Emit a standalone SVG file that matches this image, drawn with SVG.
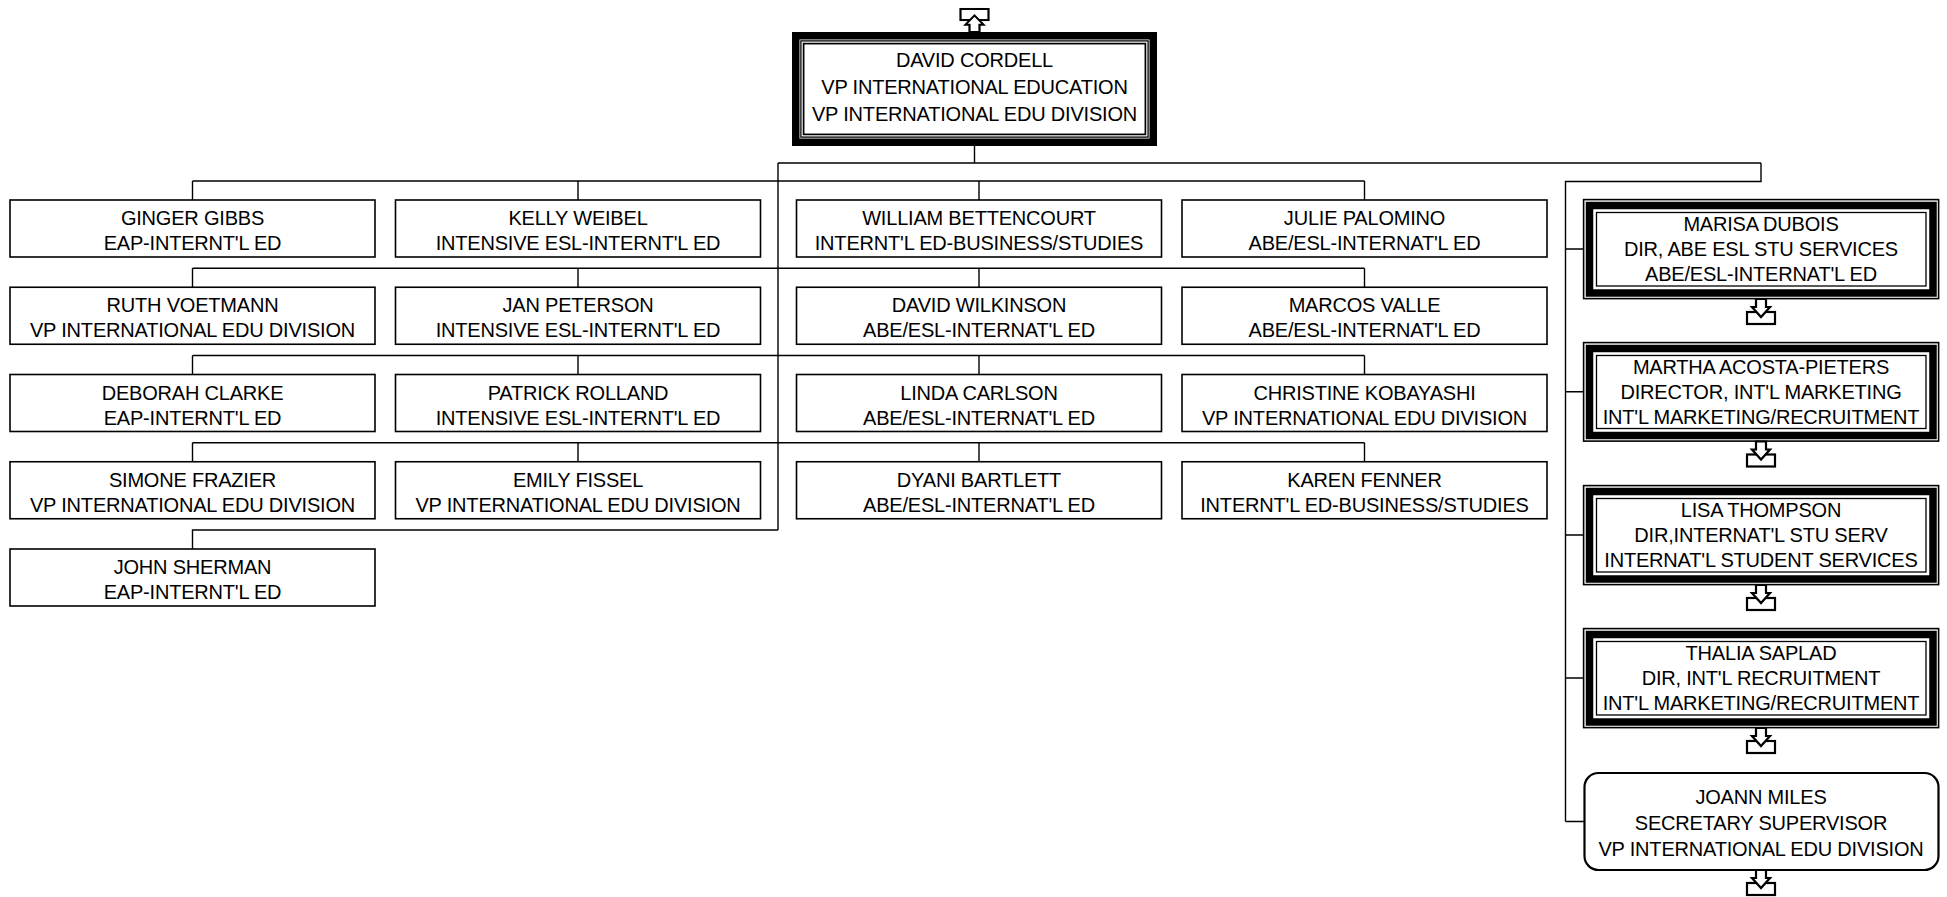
<svg xmlns="http://www.w3.org/2000/svg" xmlns:xlink="http://www.w3.org/1999/xlink" width="1947" height="897" viewBox="0 0 1947 897">
<style>
  text { font-family: "Liberation Sans", Arial, sans-serif; font-size: 20px; fill: #000; text-anchor: middle; letter-spacing: -0.2px; }
  .box { fill: #fff; stroke: #000; stroke-width: 1.6; }
  .conn { fill: none; stroke: #000; stroke-width: 1.4; }
  .thin { fill: none; stroke: #000; stroke-width: 1.3; }
  .band { fill: none; stroke: #000; stroke-width: 7.5; }
  .arr { fill: #fff; stroke: #000; stroke-width: 2.2; stroke-linejoin: miter; }
</style>
<defs>
  <g id="downArrow">
    <rect class="arr" x="-14" y="13" width="28" height="12"/>
    <polygon class="arr" points="-5,0 5,0 5,8 9,8 0,18 -9,8 -5,8"/>
  </g>
</defs>
<rect x="0" y="0" width="1947" height="897" fill="#fff"/>

<g id="connectors">
  <path class="conn" d="M974.5,146 V163 M778,163 H1761 M778,163 V530"/>
  <path class="conn" d="M192.5,181 H1364.5 M192.5,181 V200 M578,181 V200 M979,181 V200 M1364.5,181 V200"/>
  <path class="conn" d="M192.5,268.25 H1364.5 M192.5,268.25 V287.25 M578,268.25 V287.25 M979,268.25 V287.25 M1364.5,268.25 V287.25"/>
  <path class="conn" d="M192.5,355.5 H1364.5 M192.5,355.5 V374.5 M578,355.5 V374.5 M979,355.5 V374.5 M1364.5,355.5 V374.5"/>
  <path class="conn" d="M192.5,442.75 H1364.5 M192.5,442.75 V461.75 M578,442.75 V461.75 M979,442.75 V461.75 M1364.5,442.75 V461.75"/>
  <path class="conn" d="M778,530 H192.5 V549"/>
  <path class="conn" d="M1761,163 V181.5 H1565.5 V821.5"/>
  <path class="conn" d="M1565.5,249 H1583 M1565.5,391.75 H1583 M1565.5,535 H1583 M1565.5,678 H1583 M1565.5,821.5 H1584"/>
</g>

<g id="david-cordell">
  <rect x="792" y="32" width="365" height="114" fill="#fff"/>
  <rect x="795.75" y="35.75" width="357.5" height="106.5" fill="none" stroke="#000" stroke-width="7.5"/>
  <rect x="800.9" y="40.9" width="347.2" height="96.2" fill="none" stroke="#000" stroke-width="1.3"/>
  <rect x="803.6" y="43.6" width="341.8" height="90.8" fill="none" stroke="#000" stroke-width="1.7"/>
  <g transform="translate(974.5,32) scale(1,-0.92)"><use xlink:href="#downArrow"/></g>
  <text x="974.5" y="67">DAVID CORDELL</text>
  <text x="974.5" y="94">VP INTERNATIONAL EDUCATION</text>
  <text x="974.5" y="121">VP INTERNATIONAL EDU DIVISION</text>
</g>

<!-- Row 0 -->
<g id="ginger-gibbs"><rect class="box" x="10" y="200" width="365" height="57"/><text x="192.5" y="225">GINGER GIBBS</text><text x="192.5" y="250">EAP-INTERNT'L ED</text></g>
<g id="kelly-weibel"><rect class="box" x="395.5" y="200" width="365" height="57"/><text x="578" y="225">KELLY WEIBEL</text><text x="578" y="250">INTENSIVE ESL-INTERNT'L ED</text></g>
<g id="william-bettencourt"><rect class="box" x="796.5" y="200" width="365" height="57"/><text x="979" y="225">WILLIAM BETTENCOURT</text><text x="979" y="250">INTERNT'L ED-BUSINESS/STUDIES</text></g>
<g id="julie-palomino"><rect class="box" x="1182" y="200" width="365" height="57"/><text x="1364.5" y="225">JULIE PALOMINO</text><text x="1364.5" y="250">ABE/ESL-INTERNAT'L ED</text></g>

<!-- Row 1 -->
<g id="ruth-voetmann"><rect class="box" x="10" y="287.25" width="365" height="57"/><text x="192.5" y="312.25">RUTH VOETMANN</text><text x="192.5" y="337.25">VP INTERNATIONAL EDU DIVISION</text></g>
<g id="jan-peterson"><rect class="box" x="395.5" y="287.25" width="365" height="57"/><text x="578" y="312.25">JAN PETERSON</text><text x="578" y="337.25">INTENSIVE ESL-INTERNT'L ED</text></g>
<g id="david-wilkinson"><rect class="box" x="796.5" y="287.25" width="365" height="57"/><text x="979" y="312.25">DAVID WILKINSON</text><text x="979" y="337.25">ABE/ESL-INTERNAT'L ED</text></g>
<g id="marcos-valle"><rect class="box" x="1182" y="287.25" width="365" height="57"/><text x="1364.5" y="312.25">MARCOS VALLE</text><text x="1364.5" y="337.25">ABE/ESL-INTERNAT'L ED</text></g>

<!-- Row 2 -->
<g id="deborah-clarke"><rect class="box" x="10" y="374.5" width="365" height="57"/><text x="192.5" y="399.5">DEBORAH CLARKE</text><text x="192.5" y="424.5">EAP-INTERNT'L ED</text></g>
<g id="patrick-rolland"><rect class="box" x="395.5" y="374.5" width="365" height="57"/><text x="578" y="399.5">PATRICK ROLLAND</text><text x="578" y="424.5">INTENSIVE ESL-INTERNT'L ED</text></g>
<g id="linda-carlson"><rect class="box" x="796.5" y="374.5" width="365" height="57"/><text x="979" y="399.5">LINDA CARLSON</text><text x="979" y="424.5">ABE/ESL-INTERNAT'L ED</text></g>
<g id="christine-kobayashi"><rect class="box" x="1182" y="374.5" width="365" height="57"/><text x="1364.5" y="399.5">CHRISTINE KOBAYASHI</text><text x="1364.5" y="424.5">VP INTERNATIONAL EDU DIVISION</text></g>

<!-- Row 3 -->
<g id="simone-frazier"><rect class="box" x="10" y="461.75" width="365" height="57"/><text x="192.5" y="486.75">SIMONE FRAZIER</text><text x="192.5" y="511.75">VP INTERNATIONAL EDU DIVISION</text></g>
<g id="emily-fissel"><rect class="box" x="395.5" y="461.75" width="365" height="57"/><text x="578" y="486.75">EMILY FISSEL</text><text x="578" y="511.75">VP INTERNATIONAL EDU DIVISION</text></g>
<g id="dyani-bartlett"><rect class="box" x="796.5" y="461.75" width="365" height="57"/><text x="979" y="486.75">DYANI BARTLETT</text><text x="979" y="511.75">ABE/ESL-INTERNAT'L ED</text></g>
<g id="karen-fenner"><rect class="box" x="1182" y="461.75" width="365" height="57"/><text x="1364.5" y="486.75">KAREN FENNER</text><text x="1364.5" y="511.75">INTERNT'L ED-BUSINESS/STUDIES</text></g>

<!-- Row 4 -->
<g id="john-sherman"><rect class="box" x="10" y="549" width="365" height="57"/><text x="192.5" y="574">JOHN SHERMAN</text><text x="192.5" y="599">EAP-INTERNT'L ED</text></g>

<!-- Right column -->
<g id="marisa-dubois">
  <rect class="box" x="1583.6" y="199.6" width="355" height="99" stroke-width="1.3"/>
  <rect class="band" x="1589.5" y="205.5" width="343.5" height="87.5"/>
  <rect class="thin" x="1596.5" y="212.5" width="329.5" height="73.5" stroke-width="1.5"/>
  <use xlink:href="#downArrow" x="1761" y="299"/>
  <text x="1761" y="231">MARISA DUBOIS</text><text x="1761" y="256">DIR, ABE ESL STU SERVICES</text><text x="1761" y="281">ABE/ESL-INTERNAT'L ED</text>
</g>
<g id="martha-acosta-pieters">
  <rect class="box" x="1583.6" y="342.6" width="355" height="98.5" stroke-width="1.3"/>
  <rect class="band" x="1589.5" y="348.5" width="343.5" height="87"/>
  <rect class="thin" x="1596.5" y="355.5" width="329.5" height="73" stroke-width="1.5"/>
  <use xlink:href="#downArrow" x="1761" y="441.5"/>
  <text x="1761" y="373.75">MARTHA ACOSTA-PIETERS</text><text x="1761" y="398.75">DIRECTOR, INT'L MARKETING</text><text x="1761" y="423.75">INT'L MARKETING/RECRUITMENT</text>
</g>
<g id="lisa-thompson">
  <rect class="box" x="1583.6" y="485.6" width="355" height="99" stroke-width="1.3"/>
  <rect class="band" x="1589.5" y="491.5" width="343.5" height="87.5"/>
  <rect class="thin" x="1596.5" y="498.5" width="329.5" height="73.5" stroke-width="1.5"/>
  <use xlink:href="#downArrow" x="1761" y="585"/>
  <text x="1761" y="517">LISA THOMPSON</text><text x="1761" y="542">DIR,INTERNAT'L STU SERV</text><text x="1761" y="567">INTERNAT'L STUDENT SERVICES</text>
</g>
<g id="thalia-saplad">
  <rect class="box" x="1583.6" y="628.6" width="355" height="99" stroke-width="1.3"/>
  <rect class="band" x="1589.5" y="634.5" width="343.5" height="87.5"/>
  <rect class="thin" x="1596.5" y="641.5" width="329.5" height="73.5" stroke-width="1.5"/>
  <use xlink:href="#downArrow" x="1761" y="728"/>
  <text x="1761" y="660">THALIA SAPLAD</text><text x="1761" y="685">DIR, INT'L RECRUITMENT</text><text x="1761" y="710">INT'L MARKETING/RECRUITMENT</text>
</g>
<g id="joann-miles">
  <rect x="1584.5" y="773" width="354" height="97" rx="14" ry="14" fill="#fff" stroke="#000" stroke-width="2.2"/>
  <use xlink:href="#downArrow" x="1761" y="870"/>
  <text x="1761" y="804">JOANN MILES</text><text x="1761" y="830">SECRETARY SUPERVISOR</text><text x="1761" y="856">VP INTERNATIONAL EDU DIVISION</text>
</g>
</svg>
